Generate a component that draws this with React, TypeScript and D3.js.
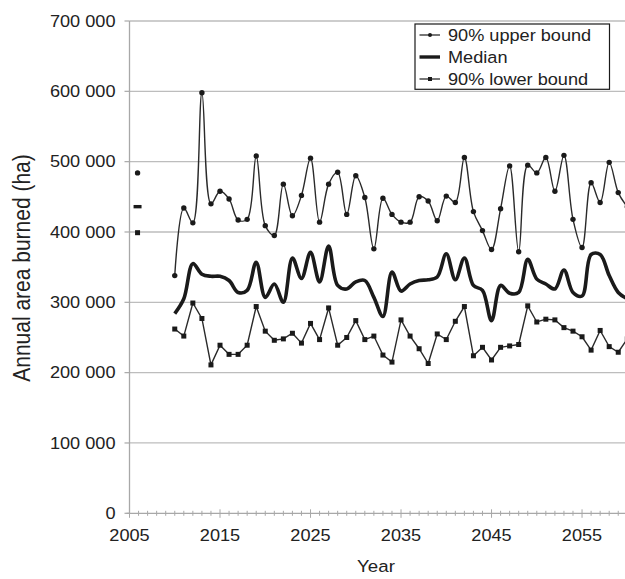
import React, { useEffect, useRef } from 'react';
import * as d3 from 'd3';

// Years of the projection series
const years = d3.range(2010, 2061);

// Values in thousand ha
const upper = [
  338, 434, 413, 598, 440, 458, 447, 417, 418, 508,
  409, 395, 468, 423, 452, 505, 414, 468, 485, 425,
  480, 449, 376, 448, 425, 414, 414, 450, 444, 416,
  451, 442, 506, 429, 402, 375, 433, 494, 372, 495,
  484, 506, 458, 509, 418, 378, 470, 442, 499, 456,
  436,
];
const median = [
  284, 305, 355, 340, 337, 337, 331, 314, 317, 357,
  307, 326, 300, 363, 334, 371, 329, 380, 324, 319,
  329, 331, 307, 280, 343, 316, 326, 331, 332, 336,
  369, 332, 363, 324, 317, 274, 324, 313, 314, 361,
  333, 326, 319, 346, 314, 309, 368, 368, 338, 314,
  305,
];
const lower = [
  262, 252, 299, 277, 211, 239, 226, 226, 239, 294,
  259, 246, 248, 256, 242, 270, 247, 292, 239, 250,
  274, 247, 252, 225, 215, 275, 252, 234, 213, 255,
  247, 273, 294, 224, 236, 218, 236, 238, 240, 295,
  272, 276, 275, 264, 259, 251, 232, 260, 237, 229,
  248,
];

// Single observed year shown on its own
const histYear = 2006;
const histUpper = 484;
const histMedian = 436;
const histLower = 399;

const yTicks = [0, 100000, 200000, 300000, 400000, 500000, 600000, 700000];
const xTicks = [2005, 2015, 2025, 2035, 2045, 2055];
const legendItems = ['90% upper bound', 'Median', '90% lower bound'];

const FONT = '"Liberation Sans", Arial, Helvetica, sans-serif';

const App = () => {
  const svgRef = useRef<SVGSVGElement>(null);

  useEffect(() => {
    document.body.style.margin = '0';
    const width = 625;
    const height = 579;

    const svg = d3.select(svgRef.current);
    svg.selectAll('*').remove();
    svg.attr('width', width).attr('height', height).style('font-family', FONT);

    const x = d3.scaleLinear().domain([2005, 2060]).range([129.5, 627.3]);
    const y = d3.scaleLinear().domain([0, 700000]).range([513.3, 21]);
    const plotLeft = x(2005);

    // gridlines
    svg.append('g')
      .selectAll('line')
      .data(yTicks.filter(d => d > 0))
      .enter().append('line')
      .attr('x1', plotLeft).attr('x2', width)
      .attr('y1', d => y(d)).attr('y2', d => y(d))
      .attr('stroke', '#bdbdbd').attr('stroke-width', 1.3);

    // y axis line + ticks
    svg.append('line')
      .attr('x1', plotLeft).attr('x2', plotLeft)
      .attr('y1', y(700000)).attr('y2', y(0))
      .attr('stroke', '#a8a8a8').attr('stroke-width', 1.3);
    svg.append('g')
      .selectAll('line')
      .data(yTicks)
      .enter().append('line')
      .attr('x1', plotLeft - 5).attr('x2', plotLeft)
      .attr('y1', d => y(d)).attr('y2', d => y(d))
      .attr('stroke', '#a8a8a8').attr('stroke-width', 1.2);

    // x axis line + minor/major ticks
    svg.append('line')
      .attr('x1', plotLeft - 3).attr('x2', width)
      .attr('y1', y(0)).attr('y2', y(0))
      .attr('stroke', '#a8a8a8').attr('stroke-width', 1.3);
    svg.append('g')
      .selectAll('line')
      .data(d3.range(2005, 2061))
      .enter().append('line')
      .attr('x1', d => x(d)).attr('x2', d => x(d))
      .attr('y1', d => (d % 10 === 5 ? y(0) - 4 : y(0) - 2.5))
      .attr('y2', d => (d % 10 === 5 ? y(0) + 4.5 : y(0) + 2.5))
      .attr('stroke', '#a8a8a8').attr('stroke-width', 1);

    // tick labels (slightly wide glyphs, like the original)
    const fmt = (v: number) => d3.format(',')(v).replace(/,/g, ' ');
    svg.append('g')
      .selectAll('text')
      .data(yTicks)
      .enter().append('text')
      .attr('transform', d => `translate(115.5,${y(d)}) scale(1.1,1)`)
      .attr('text-anchor', 'end')
      .attr('dy', '0.35em')
      .style('font-size', '16.5px')
      .attr('fill', '#222')
      .text(d => fmt(d));

    svg.append('g')
      .selectAll('text')
      .data(xTicks)
      .enter().append('text')
      .attr('transform', d => `translate(${x(d)},535) scale(1.1,1)`)
      .attr('text-anchor', 'middle')
      .attr('dy', '0.35em')
      .style('font-size', '16.5px')
      .attr('fill', '#222')
      .text(d => d);

    // axis titles
    svg.append('text')
      .attr('transform', 'translate(376,566) scale(1.1,1)')
      .attr('text-anchor', 'middle')
      .attr('dy', '0.35em')
      .style('font-size', '17px')
      .attr('fill', '#222')
      .text('Year');

    svg.append('text')
      .attr('transform', 'translate(21.5,268) scale(1.1,1) rotate(-90)')
      .attr('text-anchor', 'middle')
      .attr('dy', '0.35em')
      .style('font-size', '21px')
      .attr('fill', '#222')
      .text('Annual area burned (ha)');

    const plot = svg.append('g');
    const k = 1000;

    const smooth = d3.line<number>()
      .x((_, i) => x(years[i]))
      .y(d => y(d * k))
      .curve(d3.curveCatmullRom.alpha(0.5));
    const straight = d3.line<number>()
      .x((_, i) => x(years[i]))
      .y(d => y(d * k));

    // upper bound
    plot.append('path')
      .attr('d', smooth(upper))
      .attr('fill', 'none').attr('stroke', '#2a2a2a').attr('stroke-width', 1.4);
    plot.append('g')
      .selectAll('circle')
      .data(upper)
      .enter().append('circle')
      .attr('cx', (_, i) => x(years[i]))
      .attr('cy', d => y(d * k))
      .attr('r', 2.7)
      .attr('fill', '#1a1a1a');

    // median
    plot.append('path')
      .attr('d', smooth(median))
      .attr('fill', 'none').attr('stroke', '#1a1a1a').attr('stroke-width', 3.6)
      .attr('stroke-linejoin', 'round');

    // lower bound
    plot.append('path')
      .attr('d', straight(lower))
      .attr('fill', 'none').attr('stroke', '#2a2a2a').attr('stroke-width', 1.4);
    plot.append('g')
      .selectAll('rect')
      .data(lower)
      .enter().append('rect')
      .attr('x', (_, i) => x(years[i]) - 2.5)
      .attr('y', d => y(d * k) - 2.5)
      .attr('width', 5).attr('height', 5)
      .attr('fill', '#1a1a1a');

    // isolated year
    const hx = x(histYear) - 1;
    plot.append('circle')
      .attr('cx', hx).attr('cy', y(histUpper * k)).attr('r', 2.7).attr('fill', '#1a1a1a');
    plot.append('line')
      .attr('x1', hx - 4).attr('x2', hx + 4)
      .attr('y1', y(histMedian * k)).attr('y2', y(histMedian * k))
      .attr('stroke', '#1a1a1a').attr('stroke-width', 3.4);
    plot.append('rect')
      .attr('x', hx - 2.5).attr('y', y(histLower * k) - 2.5)
      .attr('width', 5).attr('height', 5).attr('fill', '#1a1a1a');

    // legend
    const legend = svg.append('g').attr('transform', 'translate(415,24)');
    legend.append('rect')
      .attr('x', 0).attr('y', 0).attr('width', 194.5).attr('height', 65.3)
      .attr('fill', '#fff').attr('stroke', '#1a1a1a').attr('stroke-width', 1.2);
    legendItems.forEach((name, i) => {
      const ly = 11 + i * 22;
      legend.append('line')
        .attr('x1', 4.5).attr('x2', 25)
        .attr('y1', ly).attr('y2', ly)
        .attr('stroke', '#1a1a1a').attr('stroke-width', i === 1 ? 3.4 : 1.2);
      if (i === 0) {
        legend.append('circle').attr('cx', 15).attr('cy', ly).attr('r', 2).attr('fill', '#1a1a1a');
      }
      if (i === 2) {
        legend.append('rect').attr('x', 13).attr('y', ly - 2).attr('width', 4).attr('height', 4).attr('fill', '#1a1a1a');
      }
      legend.append('text')
        .attr('transform', `translate(33,${ly}) scale(1.1,1)`)
        .attr('dy', '0.35em')
        .style('font-size', '16.5px')
        .attr('fill', '#222')
        .text(name);
    });
  }, []);

  return <svg ref={svgRef} />;
};

export default App;
